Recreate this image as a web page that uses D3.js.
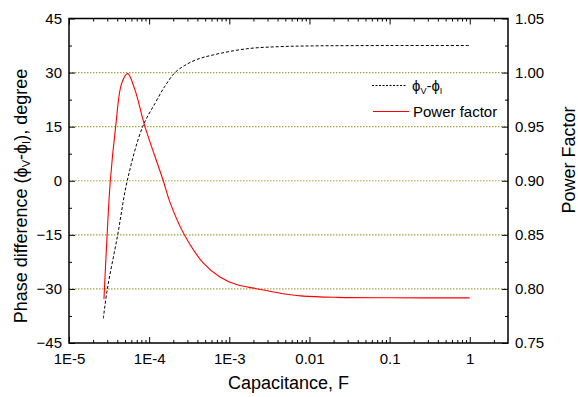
<!DOCTYPE html>
<html>
<head>
<meta charset="utf-8">
<script src="https://cdn.jsdelivr.net/npm/d3@7"></script>
<style>
  body { margin: 0; background: #fff; }
  text { font-family: "Liberation Sans", Arial, sans-serif; fill: #000; }
</style>
</head>
<body>
<svg id="chart"></svg>
<script>
// phase difference series (dashed)
const PHASE_C = [2.68e-5, 3.01e-5, 4.05e-5, 5.33e-5, 8.3e-5, 1.18e-4, 1.57e-4, 2.1e-4, 2.79e-4,
  3.9e-4, 6.3e-4, 1.64e-3, 4.27e-3, 1.1e-2, 0.1, 1];
const PHASE = [-38.2, -30, -15, 0, 15, 21.4, 26.2, 30, 32, 33.6, 34.9, 36.6, 37.2, 37.4, 37.5, 37.5];

// power factor series (red)
const PF_C = [2.73e-5, 2.98e-5, 3.27e-5, 3.82e-5, 4.54e-5, 5.4e-5, 6.65e-5, 8.87e-5,
  1.5e-4, 1.82e-4, 2.75e-4, 4.72e-4, 7.64e-4, 1.23e-3, 2.28e-3, 5.18e-3, 8.28e-3, 2.2e-2, 0.1, 1];
const PF = [0.7907, 0.848, 0.899, 0.95, 0.990, 0.999, 0.984, 0.95,
  0.90, 0.880, 0.85, 0.824, 0.811, 0.804, 0.800, 0.795, 0.7933, 0.7922, 0.7918, 0.7917];

const X_TICKS = [1e-5, 1e-4, 1e-3, 1e-2, 0.1, 1];
const X_LABELS = ["1E-5", "1E-4", "1E-3", "0.01", "0.1", "1"];
const LEFT_TICKS = [45, 30, 15, 0, -15, -30, -45];
const RIGHT_TICKS = [1.05, 1.00, 0.95, 0.90, 0.85, 0.80, 0.75];
const GRID = [30, 15, 0, -15, -30];

const WIDTH = 578, HEIGHT = 397;
const M = {left: 69, right: 508, top: 18.5, bottom: 343};

const svg = d3.select('#chart').attr('width', WIDTH).attr('height', HEIGHT);

const xScale = d3.scaleLog().domain([1e-5, 3]).range([M.left, M.right]);
const yLeft = d3.scaleLinear().domain([-45, 45]).range([M.bottom, M.top]);
const yRight = d3.scaleLinear().domain([0.75, 1.05]).range([M.bottom, M.top]);

//gridlines
svg.append('g').selectAll('line')
  .data(GRID).enter().append('line')
  .attr('x1', M.left).attr('x2', M.right)
  .attr('y1', d => yLeft(d)).attr('y2', d => yLeft(d))
  .attr('stroke', '#a3a347')
  .attr('stroke-width', 1.2)
  .attr('stroke-dasharray', '1.5,1.5');

//minor x ticks
const minorX = [];
for (let e = -5; e <= 0; e++) {
  for (let k = 2; k <= 9; k++) {
    const v = k * Math.pow(10, e);
    if (v < 3) minorX.push(v);
  }
}

// axes (ticks inside)
const axisStyle = g => {
  g.select('.domain').remove();
  g.selectAll('.tick line').attr('stroke', '#000').attr('stroke-width', 1);
  g.selectAll('.tick text').style('font-size', '15px').attr('fill', '#000');
};

svg.append('g').attr('transform', `translate(0,${M.bottom})`)
  .call(d3.axisBottom(xScale).tickValues(X_TICKS).tickSizeInner(-6).tickSizeOuter(0)
    .tickPadding(10).tickFormat((d, i) => X_LABELS[i]))
  .call(axisStyle);
svg.append('g').attr('transform', `translate(0,${M.bottom})`)
  .call(d3.axisBottom(xScale).tickValues(minorX).tickSizeInner(-3).tickSizeOuter(0).tickFormat(''))
  .call(axisStyle);
svg.append('g').attr('transform', `translate(0,${M.top})`)
  .call(d3.axisTop(xScale).tickValues(X_TICKS).tickSizeInner(-6).tickSizeOuter(0).tickFormat(''))
  .call(axisStyle);
svg.append('g').attr('transform', `translate(0,${M.top})`)
  .call(d3.axisTop(xScale).tickValues(minorX).tickSizeInner(-3).tickSizeOuter(0).tickFormat(''))
  .call(axisStyle);

svg.append('g').attr('transform', `translate(${M.left},0)`)
  .call(d3.axisLeft(yLeft).tickValues(LEFT_TICKS).tickSizeInner(-6).tickSizeOuter(0).tickPadding(7)
    .tickFormat(d3.format('d')))
  .call(axisStyle);
svg.append('g').attr('transform', `translate(${M.left},0)`)
  .call(d3.axisLeft(yLeft).tickValues([37.5, 22.5, 7.5, -7.5, -22.5, -37.5]).tickSizeInner(-3).tickSizeOuter(0).tickFormat(''))
  .call(axisStyle);

svg.append('g').attr('transform', `translate(${M.right},0)`)
  .call(d3.axisRight(yRight).tickValues(RIGHT_TICKS).tickSizeInner(-6).tickSizeOuter(0).tickPadding(7)
    .tickFormat(d3.format('.2f')))
  .call(axisStyle);
svg.append('g').attr('transform', `translate(${M.right},0)`)
  .call(d3.axisRight(yRight).tickValues([1.025, 0.975, 0.925, 0.875, 0.825, 0.775]).tickSizeInner(-3).tickSizeOuter(0).tickFormat(''))
  .call(axisStyle);

//frame
svg.append('rect')
  .attr('x', M.left).attr('y', M.top)
  .attr('width', M.right - M.left).attr('height', M.bottom - M.top)
  .attr('fill', 'none').attr('stroke', '#000').attr('stroke-width', 1.5);

//lines
const phaseLine = d3.line()
  .x((d, i) => xScale(PHASE_C[i]))
  .y(d => yLeft(d))
  .curve(d3.curveCatmullRom.alpha(0.5));
svg.append('path').datum(PHASE)
  .attr('d', phaseLine)
  .attr('fill', 'none').attr('stroke', '#000').attr('stroke-width', 1)
  .attr('stroke-dasharray', '3,2');

const pfLine = d3.line()
  .x((d, i) => xScale(PF_C[i]))
  .y(d => yRight(d))
  .curve(d3.curveCatmullRom.alpha(0.5));
svg.append('path').datum(PF)
  .attr('d', pfLine)
  .attr('fill', 'none').attr('stroke', '#ff0000').attr('stroke-width', 1.1);

//legend
const legend = svg.append('g');
legend.append('line').attr('x1', 372).attr('x2', 407).attr('y1', 85.5).attr('y2', 85.5)
  .attr('stroke', '#000').attr('stroke-dasharray', '2,1.5');
legend.append('line').attr('x1', 373).attr('x2', 409).attr('y1', 111.5).attr('y2', 111.5)
  .attr('stroke', '#ff0000').attr('stroke-width', 1.1);
const lt = legend.append('text').attr('x', 412).attr('y', 91).style('font-size', '15px');
lt.append('tspan').text('\u03d5');
lt.append('tspan').text('V').style('font-size', '9px').attr('dy', 3);
lt.append('tspan').text('-\u03d5').attr('dy', -3);
lt.append('tspan').text('I').style('font-size', '9px').attr('dy', 3);
legend.append('text').attr('x', 413).attr('y', 117).style('font-size', '15px').text('Power factor');

//axis titles
svg.append('text')
  .attr('x', (M.left + M.right) / 2).attr('y', 389)
  .attr('text-anchor', 'middle').style('font-size', '18px')
  .text('Capacitance, F');

const yl = svg.append('text')
  .attr('transform', 'translate(27,196) rotate(-90)')
  .attr('text-anchor', 'middle').style('font-size', '18px');
yl.append('tspan').text('Phase difference (\u03d5');
yl.append('tspan').text('V').style('font-size', '11px').attr('dy', 3);
yl.append('tspan').text('-\u03d5').attr('dy', -3);
yl.append('tspan').text('I').style('font-size', '11px').attr('dy', 3);
yl.append('tspan').text('), degree').attr('dy', -3);

svg.append('text')
  .attr('transform', 'translate(575,160) rotate(-90)')
  .attr('text-anchor', 'middle').style('font-size', '18px')
  .text('Power Factor');
</script>
</body>
</html>
